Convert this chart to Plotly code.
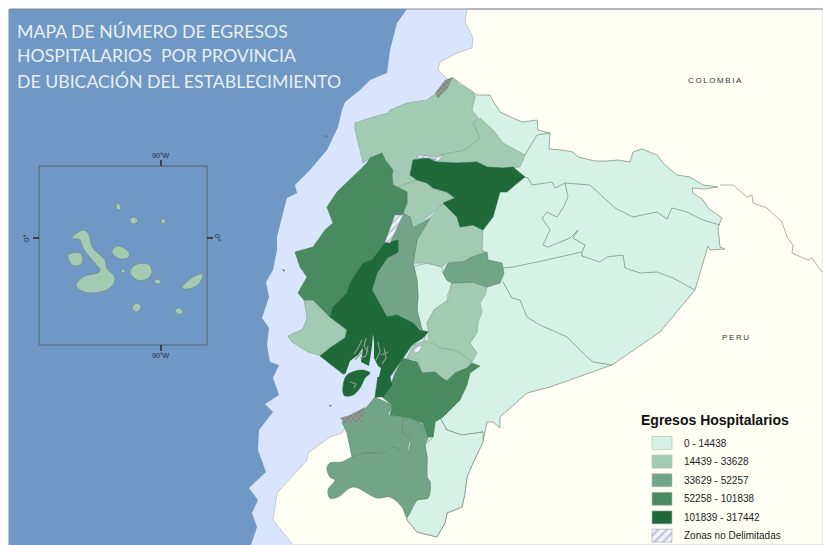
import plotly.graph_objects as go

# ---- digitised map outlines, in map units of the sheet (x east, y south) ----
COASTAL_SEA = [(407,9),(397,23),(390,50),(387,73),(370,80),(360,90),(345,102),(342,110),(338,127),(327,150),(310,170),(295,185),(297,193),(287,198),(283,213),(277,237),(277,250),(273,270),(266,282),(269,297),(262,318),(269,328),(267,345),(270,362),(279,365),(273,378),(279,395),(265,404),(273,412),(259,430),(258,450),(266,472),(249,488),(258,500),(252,513),(257,527),(251,545),(823,545),(823,9)]
NEIGHBOURS = [(467,9),(465,22),(473,38),(472,48),(457,53),(440,62),(438,70),(448,80),(453,82),(480,300),(345,427),(342,433),(330,437),(308,453),(307,460),(277,493),(273,520),(293,545),(823,545),(823,9)]
ORIENTE = [(453,78),(473,92),(477,95),(490,95),(493,101),(500,112),(511,117),(522,122),(537,120),(538,130),(550,133),(549,149),(562,150),(573,152),(578,157),(583,158),(595,161),(607,161),(618,160),(630,162),(633,152),(642,149),(650,152),(657,155),(665,165),(677,175),(690,177),(703,185),(718,187),(705,189),(692,188),(693,193),(703,200),(708,208),(722,218),(718,227),(720,247),(725,249),(710,250),(708,246),(695,290),(660,332),(612,365),(550,387),(527,393),(500,417),(500,428),(493,422),(487,422),(483,442),(473,463),(467,477),(465,493),(462,507),(447,513),(445,523),(437,537),(417,532),(407,520),(400,400),(480,200)]
ZAMORA = [(433,418),(440,418),(447,430),(462,435),(483,432),(483,442),(473,463),(467,477),(465,493),(462,507),(447,513),(445,523),(437,537),(417,532),(407,520),(407,517),(417,500),(428,498),(430,482),(427,477),(427,457),(425,445),(433,437),(435,422)]
PUYO = [(412,267),(427,263),(442,267),(443,273),(447,280),(452,283),(447,297),(448,300),(434,310),(427,323),(429,332),(422,330),(417,310),(418,297),(417,280),(413,263)]
ESMERALDAS = [(355,123),(370,118),(388,113),(390,110),(407,103),(427,100),(438,92),(443,83),(453,78),(460,85),(473,92),(475,97),(472,110),(478,118),(473,123),(480,138),(465,150),(440,155),(437,160),(417,158),(410,175),(417,180),(398,187),(393,185),(392,175),(393,170),(385,160),(382,153),(370,158),(363,163),(360,150),(355,130)]
IMBABURA = [(480,118),(493,130),(503,143),(525,155),(520,167),(503,168),(487,167),(477,162),(457,163),(437,162),(440,155),(465,150),(480,138),(473,123)]
SANTO_DOMINGO = [(398,187),(417,180),(427,183),(433,188),(447,192),(455,198),(443,203),(440,207),(413,228),(410,217),(403,213),(407,203),(407,192)]
NAPO = [(443,203),(457,217),(460,227),(473,225),(483,230),(482,250),(485,252),(487,260),(472,257),(463,262),(447,262),(442,267),(427,263),(413,263),(417,240),(430,218),(440,207)]
SANTA_ELENA = [(304,300),(313,300),(330,317),(347,331),(345,338),(327,350),(322,356),(308,352),(292,342),(288,336),(303,329),(307,318)]
MORONA_WEST = [(452,283),(473,282),(487,287),(485,295),(480,303),(482,312),(478,322),(477,333),(470,343),(477,353),(472,362),(460,353),(453,350),(440,348),(428,338),(429,332),(427,323),(434,310),(448,300)]
CANAR = [(407,358),(413,345),(428,340),(440,348),(453,350),(460,353),(472,362),(467,368),(455,373),(447,381),(442,378),(435,372),(422,373),(417,360)]
ISABELA = [(72,238),(83,230),(88,233),(93,248),(105,260),(107,268),(115,278),(110,288),(93,293),(80,290),(76,285),(83,277),(100,271),(92,260),(83,248),(80,240)]
FERNANDINA = [(68,255),(80,253),(83,260),(80,265),(72,265)]
SANTIAGO = [(112,252),(117,246),(128,251),(129,257),(120,259)]
SANTA_CRUZ = [(130,272),(135,265),(148,264),(152,272),(147,279),(137,280)]
SAN_CRISTOBAL = [(182,288),(193,277),(203,274),(198,285),(188,289)]
FLOREANA = [(132,308),(137,303),(141,307),(137,312)]
ESPANOLA = [(175,310),(180,308),(183,313),(178,314)]
MARCHENA = [(130,220),(134,217),(138,221),(133,224)]
PINTA = [(116,206),(118,203),(121,208),(118,210)]
SANTA_FE = [(154,281),(158,279),(161,282),(157,284)]
PINZON = [(121,271),(124,269),(125,272),(122,273)]
GENOVESA = [(161,220),(165,219),(165,223),(162,223)]
TUNGURAHUA = [(443,273),(448,263),(463,262),(472,257),(487,252),(488,260),(502,263),(504,273),(500,283),(487,287),(473,282),(452,283),(447,280)]
CENTRAL_STRIP = [(403,213),(410,217),(413,228),(430,218),(417,240),(413,263),(417,280),(418,297),(417,310),(422,330),(413,323),(397,315),(387,317),(373,293),(372,287),(377,273),(387,258),(398,252),(398,240),(390,243)]
EL_ORO = [(375,397),(392,405),(388,415),(405,418),(403,433),(410,438),(407,452),(393,447),(385,453),(367,453),(352,457),(347,433),(342,422),(358,417),(367,407)]
LOJA = [(352,457),(367,453),(385,453),(393,447),(407,452),(410,438),(403,433),(405,418),(423,425),(428,437),(425,445),(427,457),(427,477),(430,482),(428,498),(417,500),(407,517),(402,507),(390,497),(377,498),(353,487),(338,497),(330,498),(328,490),(335,480),(330,477),(327,468),(330,463),(342,462)]
MANABI = [(367,163),(370,158),(382,153),(385,160),(393,170),(392,175),(393,185),(407,192),(407,203),(403,213),(398,218),(385,243),(372,260),(363,263),(350,283),(347,293),(333,307),(330,317),(313,300),(304,300),(298,293),(307,277),(300,267),(295,252),(313,247),(325,230),(333,223),(327,207),(337,192),(363,167)]
AZUAY = [(382,397),(390,387),(395,373),(403,358),(410,360),(417,362),(422,373),(435,372),(442,378),(447,381),(455,373),(467,368),(472,363),(480,366),(470,373),(467,385),(460,400),(443,417),(435,422),(433,437),(428,437),(423,423),(410,418),(390,415),(392,405)]
PICHINCHA = [(410,175),(413,160),(427,158),(437,162),(457,163),(477,162),(487,167),(503,168),(513,167),(525,177),(515,185),(507,192),(500,192),(497,203),(493,217),(483,230),(473,225),(460,227),(457,217),(443,203),(455,198),(447,192),(433,188),(427,183),(417,180)]
GUAYAS = [(398,240),(398,252),(387,258),(377,273),(372,290),(387,317),(397,315),(413,323),(420,330),(428,332),(423,338),(412,345),(403,358),(395,370),(390,377),(392,385),(383,397),(375,397),(378,375),(380,370),(360,372),(343,374),(320,356),(330,348),(345,338),(347,330),(330,317),(333,307),(347,293),(350,283),(363,263),(372,260),(385,243)]
PUNA = [(343,393),(345,378),(350,373),(362,370),(370,373),(365,378),(360,388),(353,395),(345,396)]
ESTUARY = [(345,375),(350,361),(358,355),(363,348),(361,362),(369,366),(372,346),(373,334),(374,342),(374,358),(378,366),(381,368),(379,377),(345,377)]
UNDELIMITED = [[(395,215),(403,215),(390,243),(385,242)],[(418,155),(437,157),(443,155),(438,161),(433,158),(418,158)],[(413,348),(422,345),(420,352),(415,353)]]
MANGROVES = [[(435,93),(445,80),(453,77),(448,88),(438,98)],[(340,418),(350,415),(365,407),(363,422),(345,423)]]
MANGROVE_STROKES = [[(362,340),(358,348),(354,354)],[(366,338),(364,346),(368,352)],[(368,346),(366,356),(360,358)],[(378,342),(380,352),(376,360)],[(384,348),(386,358),(382,364)],[(355,360),(362,352)],[(350,382),(356,384),(354,388)],[(381,355),(388,352)]]
PROVINCE_LINES = [
 [(525,155),(530,147),(537,135),(550,133)],
 [(525,177),(528,178),(532,185),(552,182),(555,188),(565,183),(568,197),(563,208),(557,217),(547,212),(542,218),(550,230),(543,245),(548,247),(570,238),(578,230),(573,238),(585,245),(582,252)],
 [(565,183),(590,185),(603,197),(615,208),(633,217),(657,212),(667,219),(672,208),(687,212),(703,220),(720,225)],
 [(503,268),(513,267),(537,262),(560,257),(582,252),(582,256),(600,262),(607,257),(623,255),(625,268),(640,273),(657,272),(673,278),(695,290)],
 [(503,282),(512,298),(520,300),(527,317),(540,325),(567,337),(587,357),(593,362),(612,365)],
 [(440,418),(447,430),(462,435),(483,432)],
]
PERU_COLOMBIA_BORDER = [(720,185),(733,185),(747,197),(752,195),(753,203),(767,208),(782,222),(787,237),(793,245),(792,253),(808,260),(812,258),(822,272)]
ISLETS = [[(282,269),(285,270),(284,272)],[(324,135),(328,136),(326,138)],[(329,405),(332,405),(330,407)]]

# ---- palette and legend ----
CLASS_COLORS = ["#d6f2e7", "#a3cbb3", "#72a585", "#4a8a5f", "#1f6a38"]
LEGEND_LABELS = ["0 - 14438", "14439 - 33628", "33629 - 52257", "52258 - 101838", "101839 - 317442", "Zonas no Delimitadas"]
TITLE_LINES = ["MAPA DE NÚMERO DE EGRESOS", "HOSPITALARIOS  POR PROVINCIA", "DE UBICACIÓN DEL ESTABLECIMIENTO"]
OCEAN = "#6f98c4"
SEA = "#d9e5fc"
LAND = "#fffff6"

fig = go.Figure()

def poly(points, fill, edge=None, width=0.8, pattern=None, smooth=False):
    xs = [p[0] for p in points] + [points[0][0]]
    ys = [p[1] for p in points] + [points[0][1]]
    kw = {}
    if pattern:
        kw["fillpattern"] = pattern
    fig.add_trace(go.Scatter(x=xs, y=ys, mode="lines", fill="toself", fillcolor=fill,
                             line=dict(color=edge or fill, width=width if edge else 0,
                                       shape="spline" if smooth else "linear"),
                             hoverinfo="skip", showlegend=False, **kw))

def line(points, color="#7d8c82", width=0.8):
    fig.add_trace(go.Scatter(x=[p[0] for p in points], y=[p[1] for p in points], mode="lines",
                             line=dict(color=color, width=width), hoverinfo="skip", showlegend=False))

poly(COASTAL_SEA, SEA)
poly(NEIGHBOURS, LAND, "#a8aca8", 0.6)
line(PERU_COLOMBIA_BORDER, "#8d918d", 0.7)
poly(ORIENTE, CLASS_COLORS[0], "#87968c", 0.8)
for pts in PROVINCE_LINES:
    line(pts, "#78877d", 0.7)
poly(ZAMORA, CLASS_COLORS[0], "#87968c", 0.8)
poly(PUYO, CLASS_COLORS[0], "#87968c", 0.6)
for pts in [ESMERALDAS, IMBABURA, SANTO_DOMINGO, NAPO, SANTA_ELENA, MORONA_WEST, CANAR]:
    poly(pts, CLASS_COLORS[1], "#8da897", 0.7)
for pts in [TUNGURAHUA, CENTRAL_STRIP, EL_ORO]:
    poly(pts, CLASS_COLORS[2], "#5f8c70", 0.7)
poly(LOJA, CLASS_COLORS[2], "#5f8c70", 0.7, smooth=True)
for pts in [MANABI, AZUAY]:
    poly(pts, CLASS_COLORS[3], "#447f58", 0.6)
poly(PICHINCHA, CLASS_COLORS[4], "#1f6a38", 0.5)
poly(GUAYAS, CLASS_COLORS[4], "#1f6a38", 0.5)
poly(ESTUARY, SEA)
poly(PUNA, CLASS_COLORS[4], "#1f6a38", 0.5, smooth=True)
for pts in MANGROVE_STROKES:
    line(pts, "#8d9a90", 1.2)
hatch = dict(shape="/", fgcolor="#7f8fb0", bgcolor="#eef2fb", size=5, solidity=0.3)
for pts in UNDELIMITED:
    poly(pts, "#eef2fb", "#8a93a8", 0.5, hatch)
speck = dict(shape="x", fgcolor="#c4ccc6", bgcolor="#7f8a82", size=4, solidity=0.3)
for pts in MANGROVES:
    poly(pts, "#8b9589", None, 0, speck)
for pts in ISLETS:
    poly(pts, "#5f7488")

# inset: Galapagos
for pts in [ISABELA, FERNANDINA, SANTIAGO, SANTA_CRUZ, SAN_CRISTOBAL, FLOREANA, ESPANOLA, MARCHENA, PINTA, SANTA_FE, PINZON, GENOVESA]:
    poly(pts, CLASS_COLORS[1], "#6d8c82", 0.7, smooth=True)
line([(39,166),(207,166),(207,345),(39,345),(39,166)], "#5f7488", 1.4)
for pts in [[(161,160),(161,166)], [(161,345),(161,351)], [(33,238),(39,238)], [(207,238),(213,238)]]:
    line(pts, "#222222", 1.4)
line([(10,9),(823,9)], "#7c8a9c", 1.0)
line([(9,9),(9,545)], "#7c93b4", 1.0)

# legend patches
rows = [443, 461.6, 480.2, 498.8, 517.4, 535.6]
for i, yc in enumerate(rows):
    p = [(652, yc-6.5), (672, yc-6.5), (672, yc+6.5), (652, yc+6.5)]
    if i < 5:
        poly(p, CLASS_COLORS[i], "#a9b9ae", 0.6)
    else:
        poly(p, "#eef2fb", "#9aa2b5", 0.6, dict(shape="/", fgcolor="#7f8fb8", bgcolor="#f3f4fb", size=6, solidity=0.35))

ann = []
def text(x, y, s, size, color, family="Liberation Sans", anchor="left", angle=0, bold=False):
    ann.append(dict(x=x, y=y, xref="x", yref="y", text=f"<b>{s}</b>" if bold else s, showarrow=False, xanchor=anchor,
                    yanchor="middle", textangle=angle, font=dict(size=size, color=color, family=family)))

for yc, s in zip([31, 55, 81], TITLE_LINES):
    text(15, yc, s, 17.7, "#e9eff6", "Lato")
text(715, 80, "C\u2009O\u2009L\u2009O\u2009M\u2009B\u2009I\u2009A", 8, "#333333", anchor="center")
text(735, 337, "P\u2009E\u2009R\u2009U", 8, "#333333", anchor="center")
text(161, 155, "90°W", 7, "#26323e", anchor="center")
text(161, 355, "90°W", 7, "#26323e", anchor="center")
text(26, 238, "0°", 8, "#26323e", anchor="center", angle=-90)
text(218, 238, "0°", 8, "#26323e", anchor="center", angle=90)
text(638.5, 420, "Egresos Hospitalarios", 14, "#111111", bold=True)
for yc, s in zip(rows, LEGEND_LABELS):
    text(682, yc, s, 10, "#222222")

fig.update_layout(width=823, height=545, margin=dict(l=0, r=0, t=0, b=0), paper_bgcolor="white",
                  plot_bgcolor="white", showlegend=False, annotations=ann,
                  xaxis=dict(range=[0, 823], visible=False, fixedrange=True),
                  yaxis=dict(range=[545, 0], visible=False, fixedrange=True),
                  shapes=[dict(type="rect", xref="x", yref="y", x0=9, x1=823, y0=9, y1=545,
                               fillcolor=OCEAN, line_width=0, layer="below")])
fig.write_html("out.html", config={"displayModeBar": False},
               post_script="document.body.style.margin='0';document.body.style.overflow='hidden';")
